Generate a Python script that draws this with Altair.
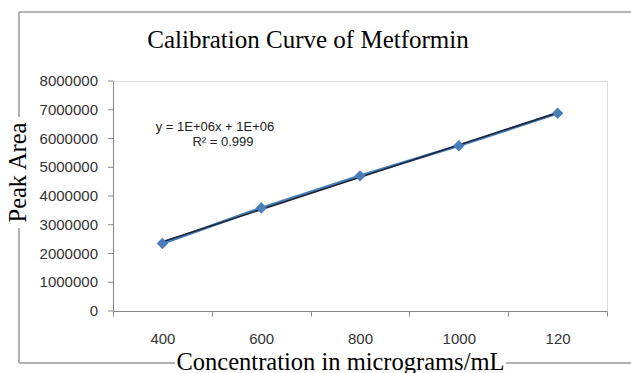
import altair as alt
import pandas as pd

concentration = ["400", "600", "800", "1000", "120"]
order = [1, 2, 3, 4, 5]
peak_area = [2350000, 3580000, 4700000, 5750000, 6880000]
y_ticks = [0, 1000000, 2000000, 3000000, 4000000, 5000000, 6000000, 7000000, 8000000]

chart_title = "Calibration Curve of Metformin"
equation_lines = ["y = 1E+06x + 1E+06", "R² = 0.999"]

df = pd.DataFrame({"conc": concentration, "idx": order, "area": peak_area})
tick_df = pd.DataFrame({"area": y_ticks, "lab": [str(v) for v in y_ticks]})

W, H = 494, 230
GREY = "#9a9a9a"
BLUE = "#4A7EBB"

x_enc = alt.X(
    "conc:N",
    sort=concentration,
    scale=alt.Scale(paddingInner=0, paddingOuter=0),
    axis=alt.Axis(
        title="Concentration in micrograms/mL",
        titleFont="Liberation Serif",
        titleFontSize=24.5,
        titleFontWeight="normal",
        titleColor="#000",
        titleBaseline="alphabetic",
        titleX=227,
        titleY=58,
        labelAngle=0,
        labelFont="Liberation Sans",
        labelFontSize=15,
        labelColor="#333",
        labelPadding=15,
        tickBand="extent",
        tickSize=5,
        tickColor="#888",
        domainColor="#888",
        grid=False,
    ),
)

y_scale = alt.Scale(domain=[0, 8000000], nice=False)
y_enc = alt.Y(
    "area:Q",
    scale=y_scale,
    axis=alt.Axis(
        title="Peak Area",
        titleFont="Liberation Serif",
        titleFontSize=24.5,
        titleFontWeight="normal",
        titleColor="#000",
        titleAngle=270,
        titleBaseline="alphabetic",
        titleX=-88,
        titleY=91,
        labels=False,
        ticks=False,
        domainColor="#888",
        grid=False,
    ),
)

base = alt.Chart(df)

line = base.mark_line(color=BLUE, strokeWidth=3).encode(x=x_enc, y=y_enc)
pts = base.mark_point(shape="diamond", filled=True, size=130, color=BLUE, opacity=1).encode(
    x=x_enc, y=y_enc
)

trend = (
    base.transform_regression("idx", "area", method="linear")
    .transform_calculate(conc="['400','600','800','1000','120'][round(datum.idx) - 1]")
    .mark_line(color="#1c2436", strokeWidth=1.6)
    .encode(x=x_enc, y=y_enc)
)

# y-axis tick marks and labels, positioned by the shared y scale
ytick_marks = alt.Chart(tick_df).mark_rule(color="#888", strokeWidth=1).encode(
    y=alt.Y("area:Q", scale=y_scale), x=alt.value(-5), x2=alt.value(0)
)
ytick_labels = alt.Chart(tick_df).mark_text(
    font="Liberation Sans", fontSize=15, color="#333", align="right", baseline="middle"
).encode(y=alt.Y("area:Q", scale=y_scale), x=alt.value(-15), text="lab:N")

txt_df = pd.DataFrame({"t": equation_lines + [chart_title]})
eq1 = alt.Chart(txt_df.iloc[[0]]).mark_text(
    font="Liberation Sans", fontSize=13, color="#222", align="center", baseline="middle"
).encode(text="t:N", x=alt.value(102), y=alt.value(46))
eq2 = alt.Chart(txt_df.iloc[[1]]).mark_text(
    font="Liberation Sans", fontSize=13, color="#222", align="center", baseline="middle"
).encode(text="t:N", x=alt.value(110), y=alt.value(61))
ttl = alt.Chart(txt_df.iloc[[2]]).mark_text(
    font="Liberation Serif", fontSize=25, color="#000", align="center", baseline="alphabetic"
).encode(text="t:N", x=alt.value(195), y=alt.value(-33))

# chart-area border (Excel style), broken around the axis titles
bd = pd.DataFrame({"d": [0]})
def seg(x, x2, y, y2):
    return alt.Chart(bd).mark_rule(color=GREY, strokeWidth=1.5).encode(
        x=alt.value(x), x2=alt.value(x2), y=alt.value(y), y2=alt.value(y2)
    )

borders = [
    seg(-94, 518, -69, -69),
    seg(-94, -94, -69, 36),
    seg(-94, -94, 147, 282),
    seg(-94, 62, 282, 282),
    seg(393, 518, 282, 282),
]

chart = alt.layer(
    *borders, line, trend, pts, ytick_marks, ytick_labels, eq1, eq2, ttl
).properties(
    width=W,
    height=H,
    autosize=alt.AutoSizeParams(type="none"),
    padding={"left": 113, "top": 81, "right": 24, "bottom": 62},
).configure_view(stroke=None).configure(background="white")

chart.save("out.html", embed_options={"renderer": "svg", "actions": False})
